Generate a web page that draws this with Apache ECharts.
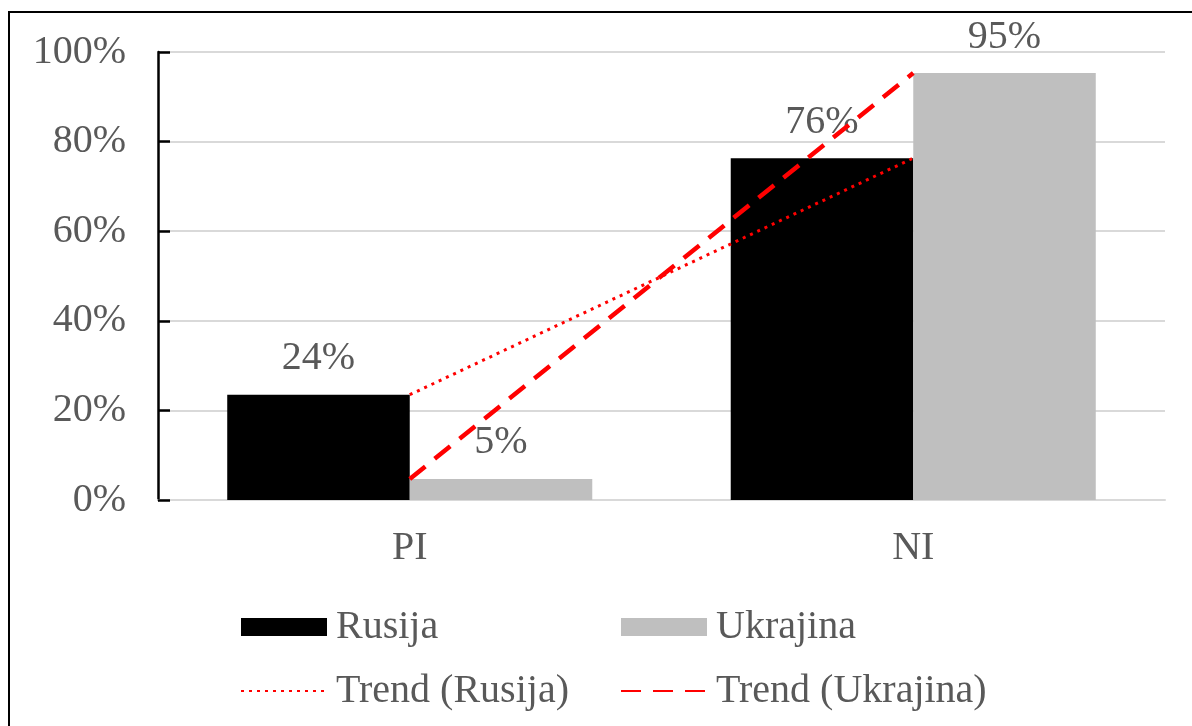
<!DOCTYPE html>
<html>
<head>
<meta charset="utf-8">
<script src="https://cdn.jsdelivr.net/npm/echarts@6/dist/echarts.min.js"></script>
<style>
  html, body { margin: 0; padding: 0; background: #fff; }
  #wrap { position: relative; width: 1192px; height: 726px; overflow: hidden; }
  #frame {
    position: absolute; left: 8px; top: 11px; width: 1300px; height: 800px;
    border-left: 2px solid #000; border-top: 2px solid #000;
  }
  #main { position: absolute; left: 0; top: 0; width: 1192px; height: 726px; }
</style>
</head>
<body>
<div id="wrap">
  <div id="frame"></div>
  <div id="main"></div>
</div>
<script>
// podaci
var categories = ['PI', 'NI'];
var rusija = [23.5, 76.3];
var ukrajina = [4.7, 95.3];
var yTicks = { min: 0, max: 100, interval: 20 };

var font = 'Liberation Serif, Times New Roman, serif';
var txtColor = '#595959';
var fs = 40;

var legendText = { fontFamily: font, fontSize: fs, lineHeight: 40, color: txtColor, padding: [0, 0, 0, 4] };

var myChart = echarts.init(document.getElementById('main'));
var option = {
  animation: false,
  grid: { left: 158, right: 27, top: 52, bottom: 226 },
  legend: [
    {
      orient: 'vertical',
      left: 235,
      top: 602,
      itemWidth: 86,
      itemHeight: 18,
      itemGap: 24,
      textStyle: legendText,
      data: [
        { name: 'Rusija', icon: 'rect' },
        { name: 'Trend (Rusija)', itemStyle: { opacity: 0 } }
      ]
    },
    {
      orient: 'vertical',
      left: 615,
      top: 602,
      itemWidth: 86,
      itemHeight: 18,
      itemGap: 24,
      textStyle: legendText,
      data: [
        { name: 'Ukrajina', icon: 'rect' },
        { name: 'Trend (Ukrajina)', itemStyle: { opacity: 0 } }
      ]
    }
  ],
  xAxis: {
    type: 'category',
    data: categories,
    axisLine: { show: true, lineStyle: { color: '#d9d9d9', width: 2 } },
    axisTick: { show: false },
    axisLabel: { fontFamily: font, fontSize: fs, color: txtColor, margin: 28 }
  },
  yAxis: {
    type: 'value',
    min: yTicks.min,
    max: yTicks.max,
    interval: yTicks.interval,
    axisLine: { show: true, lineStyle: { color: '#000', width: 2.5 } },
    axisTick: { show: true, inside: true, length: 12, lineStyle: { color: '#000', width: 2.5 } },
    splitLine: { show: true, lineStyle: { color: '#d9d9d9', width: 2 } },
    axisLabel: { fontFamily: font, fontSize: fs, color: txtColor, margin: 32, formatter: '{value}%' }
  },
  series: [
    {
      name: 'Rusija',
      type: 'bar',
      data: rusija,
      barGap: '0%',
      barCategoryGap: '27.5%',
      itemStyle: { color: '#000' },
      label: {
        show: true, position: 'top', distance: 16,
        fontFamily: font, fontSize: fs, color: txtColor,
        formatter: function (p) { return Math.round(p.value) + '%'; }
      }
    },
    {
      name: 'Ukrajina',
      type: 'bar',
      data: ukrajina,
      itemStyle: { color: '#bfbfbf' },
      label: {
        show: true, position: 'top', distance: 16,
        fontFamily: font, fontSize: fs, color: txtColor,
        formatter: function (p) { return Math.round(p.value) + '%'; }
      }
    },
    {
      // trend linija
      name: 'Trend (Rusija)',
      type: 'line',
      data: rusija,
      symbol: 'none',
      z: 5,
      itemStyle: { color: '#ff0000' },
      lineStyle: { color: '#ff0000', width: 3, type: [3, 5] }
    },
    {
      name: 'Trend (Ukrajina)',
      type: 'line',
      data: ukrajina,
      symbol: 'none',
      z: 5,
      itemStyle: { color: '#ff0000' },
      lineStyle: { color: '#ff0000', width: 4.5, type: [20, 12] }
    }
  ]
};
myChart.setOption(option);
</script>
</body>
</html>
